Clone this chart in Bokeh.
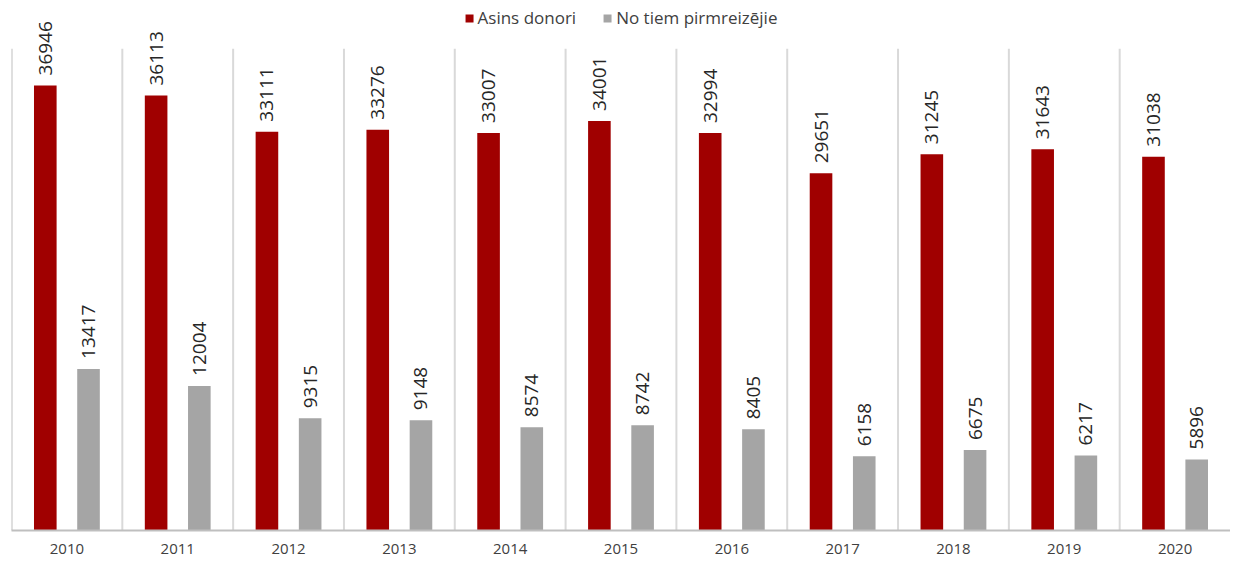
import math
from bokeh.plotting import figure
from bokeh.models import Range1d, FixedTicker, Legend, LegendItem, ColumnDataSource
from bokeh.core.properties import value
from bokeh.embed import file_html
from bokeh.resources import INLINE

years = ["2010", "2011", "2012", "2013", "2014", "2015", "2016", "2017", "2018", "2019", "2020"]
asins_donori = [36946, 36113, 33111, 33276, 33007, 34001, 32994, 29651, 31245, 31643, 31038]
pirmreizejie = [13417, 12004, 9315, 9148, 8574, 8742, 8405, 6158, 6675, 6217, 5896]
series_names = ["Asins donori", "No tiem pirmreizējie"]
colors = ["#a00000", "#a5a5a5"]

n = len(years)
centers = [i + 0.5 for i in range(n)]
off = 0.195
bw = 0.204

p = figure(width=1230, height=562, output_backend="svg", toolbar_location=None,
           x_range=Range1d(0, 11.0), y_range=Range1d(0, 44000),
           min_border_left=11, min_border_right=0, min_border_top=0, min_border_bottom=32)
p.outline_line_color = None
p.xgrid.visible = False
p.ygrid.visible = False
p.yaxis.visible = False

# category separator gridlines
gx = list(range(0, n))
p.segment(x0=gx, y0=[0] * len(gx), x1=gx, y1=[40000] * len(gx),
          line_color=["#bfbfbf"] + ["#d9d9d9"] * (len(gx) - 1), line_width=2)

src1 = ColumnDataSource(dict(x=[c - off for c in centers], y=asins_donori,
                             t=[str(v) for v in asins_donori]))
src2 = ColumnDataSource(dict(x=[c + off for c in centers], y=pirmreizejie,
                             t=[str(v) for v in pirmreizejie]))

r1 = p.vbar(x="x", top="y", width=bw, source=src1, fill_color=colors[0], line_color=None)
r2 = p.vbar(x="x", top="y", width=bw, source=src2, fill_color=colors[1], line_color=None)

for s in (src1, src2):
    p.text(x="x", y="y", text="t", source=s, angle=math.pi / 2, y_offset=-10,
           text_align="left", text_baseline="middle", text_font=value("Open Sans"),
           text_font_size="19px", text_color="#262626")

p.xaxis.ticker = FixedTicker(ticks=centers)
p.xaxis.major_label_overrides = {c: y for c, y in zip(centers, years)}
p.xaxis.major_tick_line_color = None
p.xaxis.minor_tick_line_color = None
p.xaxis.axis_line_color = "#bfbfbf"
p.xaxis.axis_line_width = 2
p.xaxis.major_label_text_font = "Open Sans"
p.xaxis.major_label_text_font_size = "15px"
p.xaxis.major_label_text_color = "#404040"
p.xaxis.major_label_standoff = 7

legend = Legend(items=[LegendItem(label=series_names[0], renderers=[r1]),
                       LegendItem(label=series_names[1], renderers=[r2])],
                location="top_center", orientation="horizontal",
                glyph_width=10, glyph_height=10, label_text_font="Open Sans",
                label_text_font_size="17px", label_text_color="#404040",
                border_line_color=None, background_fill_alpha=0,
                margin=6, padding=2, spacing=26, label_standoff=4)
p.add_layout(legend, "center")

open("out.html", "w").write(file_html(p, INLINE))
